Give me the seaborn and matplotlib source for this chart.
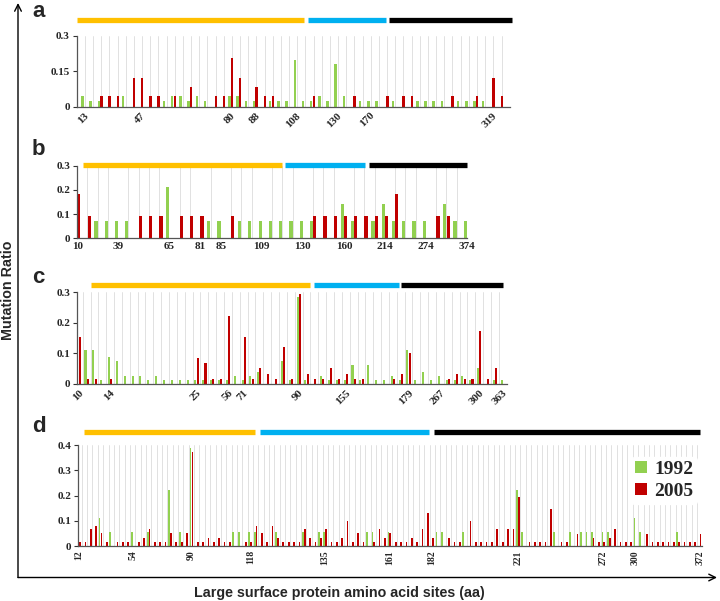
import numpy as np
import pandas as pd
import matplotlib
matplotlib.use("Agg")
import matplotlib.pyplot as plt
import matplotlib.transforms as mtransforms
import seaborn as sns

years = ["1992", "2005"]
year_colors = {"1992": "#92D050", "2005": "#C00000"}
region_colors = ["#FFC000", "#00B0F0", "#000000"]

# panel a
a_1992 = [0.046, 0.024, 0.024, 0, 0, 0.046, 0, 0, 0, 0,
          0.024, 0.046, 0.046, 0.024, 0.046, 0.024, 0, 0, 0.046, 0.046,
          0.024, 0.024, 0, 0.024, 0.024, 0.024, 0.197, 0.024, 0.024, 0.046,
          0.024, 0.179, 0.046, 0, 0.024, 0.024, 0.024, 0, 0.024, 0,
          0, 0.024, 0.024, 0.024, 0.024, 0, 0.024, 0.024, 0.024, 0.024,
          0, 0, 0]
a_2005 = [0, 0, 0.045, 0.045, 0.045, 0, 0.122, 0.122, 0.045, 0.045,
          0, 0.045, 0, 0.082, 0, 0, 0.045, 0.045, 0.204, 0.122,
          0, 0.082, 0.045, 0.045, 0, 0, 0, 0, 0.045, 0,
          0, 0, 0, 0.045, 0, 0, 0, 0.045, 0, 0.045,
          0.045, 0, 0, 0, 0, 0.045, 0, 0, 0.045, 0,
          0.122, 0.045, 0]
a_ticks = [0, 7, 18, 21, 26, 31, 35, 50]
a_labels = ["13", "47", "80", "88", "108", "130", "170", "319"]
a_regions = [(-0.8, 27.0), (27.5, 37.0), (37.4, 52.4)]

# panel b
b_1992 = [0, 0, 0.071, 0.071, 0.071, 0.071, 0, 0, 0, 0.214,
          0, 0, 0, 0.071, 0.071, 0, 0.071, 0.071, 0.071, 0.071,
          0.071, 0.071, 0.071, 0.071, 0, 0, 0.143, 0.071, 0, 0.071,
          0.143, 0.071, 0.071, 0.071, 0.071, 0, 0.143, 0.071, 0.071]
b_2005 = [0.182, 0.091, 0, 0, 0, 0, 0.091, 0.091, 0.091, 0,
          0.091, 0.091, 0.091, 0, 0, 0.091, 0, 0, 0, 0,
          0, 0, 0, 0.091, 0.091, 0.091, 0.091, 0.091, 0.091, 0.091,
          0.091, 0.182, 0, 0, 0, 0.091, 0.091, 0, 0]
b_ticks = [0, 4, 9, 12, 14, 18, 22, 26, 30, 34, 38]
b_labels = ["10", "39", "65", "81", "85", "109", "130", "160", "214", "274", "374"]
b_regions = [(0.6, 20.0), (20.3, 28.1), (28.4, 38.0)]

# panel c
c_1992 = [0, 0.111, 0.111, 0.013, 0.089, 0.076, 0.025, 0.025, 0.025, 0.013,
          0.025, 0.013, 0.013, 0.013, 0.013, 0.013, 0.013, 0.013, 0.013, 0.013,
          0.025, 0.013, 0.025, 0.038, 0, 0, 0.076, 0.013, 0.285, 0.013,
          0, 0.025, 0.013, 0.013, 0.013, 0.063, 0.013, 0.063, 0.013, 0.013,
          0.025, 0.013, 0.111, 0.013, 0.038, 0.013, 0.025, 0.013, 0.013, 0.025,
          0.013, 0.051, 0, 0.013, 0.013]
c_2005 = [0.155, 0.017, 0.017, 0, 0.017, 0, 0, 0, 0, 0,
          0, 0, 0, 0, 0, 0.086, 0.069, 0.017, 0.017, 0.224,
          0, 0.155, 0.017, 0.052, 0.034, 0.017, 0.12, 0.017, 0.293, 0.034,
          0.017, 0.017, 0.052, 0.017, 0.034, 0.017, 0.017, 0, 0, 0,
          0.017, 0.034, 0.103, 0, 0, 0, 0, 0.017, 0.034, 0.017,
          0.017, 0.172, 0.017, 0.052, 0]
c_ticks = [0, 4, 15, 19, 21, 28, 34, 42, 46, 51, 54]
c_labels = ["10", "14", "25", "56", "71", "90", "155", "179", "267", "300", "363"]
c_regions = [(1.5, 29.5), (29.9, 40.8), (41.0, 54.0)]

# panel d
d_1992 = [0, 0, 0, 0, 0.11, 0, 0.057, 0, 0, 0,
          0.057, 0, 0, 0.057, 0, 0, 0, 0.222, 0, 0.057,
          0, 0.389, 0, 0, 0, 0, 0, 0, 0, 0.057,
          0.057, 0, 0.057, 0.057, 0, 0, 0, 0.057, 0, 0,
          0, 0, 0.057, 0, 0, 0.057, 0.057, 0, 0, 0,
          0, 0, 0, 0, 0.057, 0.057, 0, 0, 0.057, 0,
          0, 0, 0, 0, 0, 0, 0, 0.057, 0.057, 0,
          0, 0, 0.057, 0, 0, 0, 0, 0, 0, 0,
          0, 0, 0.222, 0.057, 0, 0, 0, 0, 0, 0.057,
          0, 0, 0.057, 0, 0.057, 0.057, 0.057, 0, 0.057, 0.057,
          0, 0, 0, 0, 0.11, 0.057, 0, 0, 0, 0,
          0, 0, 0.057, 0, 0, 0, 0]
d_2005 = [0.015, 0.015, 0.066, 0.081, 0.05, 0.015, 0, 0.015, 0.015, 0.015,
          0, 0.015, 0.032, 0.066, 0.015, 0.015, 0.015, 0.05, 0.015, 0.015,
          0.05, 0.372, 0.015, 0.015, 0.032, 0.015, 0.032, 0.015, 0.015, 0,
          0, 0.015, 0.015, 0.081, 0.05, 0.015, 0.081, 0.032, 0.015, 0.015,
          0.015, 0.015, 0.066, 0.032, 0.015, 0.032, 0.066, 0.015, 0.015, 0.032,
          0.099, 0.015, 0.05, 0.015, 0, 0.015, 0.066, 0.032, 0.05, 0.015,
          0.015, 0.015, 0.032, 0.015, 0.066, 0.13, 0.032, 0, 0, 0.032,
          0.015, 0.015, 0, 0.099, 0.015, 0.015, 0.015, 0.015, 0.066, 0.015,
          0.066, 0.066, 0.196, 0, 0.015, 0.015, 0.015, 0.015, 0.146, 0,
          0.015, 0.015, 0, 0.048, 0, 0, 0.032, 0.015, 0.015, 0.032,
          0.066, 0.015, 0.015, 0.015, 0, 0, 0.048, 0.015, 0.015, 0.015,
          0.015, 0.015, 0.015, 0.015, 0.015, 0.015, 0.048]
d_ticks = [0, 10, 21, 32, 46, 58, 66, 82, 98, 104, 116]
d_labels = ["12", "54", "90", "118", "135", "161", "182", "221", "272", "300", "372"]
d_regions = [(0.9, 32.8), (33.8, 65.4), (66.3, 116.0)]

sns.set_theme(style="white")
plt.rcParams["font.family"] = ["Liberation Serif", "DejaVu Serif"]
plt.rcParams["font.weight"] = "bold"

fig = plt.figure(figsize=(7.2, 6.01), dpi=100)

# background axes in pixel units for the outer arrows and texts
bg = fig.add_axes([0, 0, 1, 1], zorder=-1)
bg.set_xlim(0, 720)
bg.set_ylim(601, 0)
bg.axis("off")
arrow = dict(arrowstyle="->", lw=1.0, color="black", shrinkA=0, shrinkB=0, mutation_scale=12)
bg.annotate("", xy=(18, 3), xytext=(18, 577.5), arrowprops=arrow)
bg.annotate("", xy=(717, 577.5), xytext=(18, 577.5), arrowprops=arrow)
sans = ["Liberation Sans", "DejaVu Sans"]
bg.text(8, 290, "Mutation Ratio", rotation=90, ha="center", va="center",
        family=sans, weight="bold", size=10.3)
bg.text(339, 593, "Large surface protein amino acid sites (aa)", ha="center", va="center",
        family=sans, weight="bold", size=10.3)
for letter, y in zip("abcd", [17, 155, 283, 432]):
    bg.text(32, y, letter, ha="left", va="baseline", family=sans, weight="bold", size=16)


def draw_panel(ax, v1992, v2005, xlim, width, gap, ymax, yticks, ylabels,
               ticks, labels, rot, regions, region_y, grid_shift, legend=False):
    n = len(v1992)
    df = pd.DataFrame({
        "site": list(range(n)) * 2,
        "ratio": v1992 + v2005,
        "year": ["1992"] * n + ["2005"] * n,
    })
    sns.barplot(data=df, x="site", y="ratio", hue="year", hue_order=years,
                palette=year_colors, width=width, gap=gap, saturation=1,
                errorbar=None, ax=ax, legend=legend, linewidth=0, edgecolor="none")
    ax.set_xlim(*xlim)
    ax.set_ylim(0, ymax)
    ax.set_yticks(yticks, ylabels)
    ax.set_xticks(ticks, labels)
    ax.set_xticks(np.arange(n) + grid_shift, minor=True)
    ax.set_axisbelow(True)
    ax.grid(False)
    ax.grid(axis="x", which="minor", color="#DCDCDC", lw=0.6)
    ax.set_xlabel("")
    ax.set_ylabel("")
    for s in ["top", "right"]:
        ax.spines[s].set_visible(False)
    for s in ["left", "bottom"]:
        ax.spines[s].set_color("#555555")
        ax.spines[s].set_linewidth(0.9)
    ax.tick_params(axis="x", which="major", length=0, pad=3)
    ax.tick_params(axis="x", which="minor", length=3, width=0.8, color="#333333", direction="out")
    ax.tick_params(axis="y", length=3, width=0.8, color="#333333", direction="out", pad=2,
                   labelsize=8, left=True)
    fs = 7 if rot == 90 else 8
    for t in ax.get_xticklabels():
        t.set_fontsize(fs)
        t.set_fontweight("bold")
        if rot == 45:
            t.set_rotation(45)
            t.set_ha("right")
            t.set_rotation_mode("anchor")
        elif rot == 90:
            t.set_rotation(90)
    for t in ax.get_yticklabels():
        t.set_fontweight("bold")
    trans = mtransforms.blended_transform_factory(ax.transData, ax.transAxes)
    for (x0, x1), c in zip(regions, region_colors):
        ax.plot([x0, x1], [region_y, region_y], color=c, lw=3.8, transform=trans,
                clip_on=False, solid_capstyle="butt")


ax_a = fig.add_axes([0.1065, 0.8225, 0.6014, 0.1181])
draw_panel(ax_a, a_1992, a_2005, (-0.86, 52.06), 0.65, 0.1, 0.3, [0, 0.15, 0.3],
           ["0", "0.15", "0.3"], a_ticks, a_labels, 45, a_regions, 1.22, 0.14)

ax_b = fig.add_axes([0.1069, 0.6035, 0.5417, 0.1208])
draw_panel(ax_b, b_1992, b_2005, (-0.02, 38.0), 0.66, 0.05, 0.3, [0, 0.1, 0.2, 0.3],
           ["0", "0.1", "0.2", "0.3"], b_ticks, b_labels, 0, b_regions, 1.01, 0.0)

ax_c = fig.add_axes([0.1074, 0.3611, 0.5964, 0.1525])
draw_panel(ax_c, c_1992, c_2005, (-0.18, 54.0), 0.56, 0.08, 0.3, [0, 0.1, 0.2, 0.3],
           ["0", "0.1", "0.2", "0.3"], c_ticks, c_labels, 45, c_regions, 1.08, 0.5)

ax_d = fig.add_axes([0.1088, 0.0915, 0.8667, 0.1676])
draw_panel(ax_d, d_1992, d_2005, (-0.14, 116.15), 0.7, 0.08, 0.4,
           [0, 0.1, 0.2, 0.3, 0.4], ["0", "0.1", "0.2", "0.3", "0.4"],
           d_ticks, d_labels, 90, d_regions, 1.13, 0.5, legend=True)
handles, labels = ax_d.get_legend_handles_labels()
ax_d.legend(handles, labels, loc="upper left", bbox_to_anchor=(0.87, 0.98),
            prop={"family": "Liberation Serif", "weight": "bold", "size": 14},
            frameon=True, facecolor="white", edgecolor="white", framealpha=1,
            handlelength=0.6, handleheight=0.6, handletextpad=0.4,
            borderpad=0.2, labelspacing=0.25)

fig.savefig("out.png", dpi=100)
